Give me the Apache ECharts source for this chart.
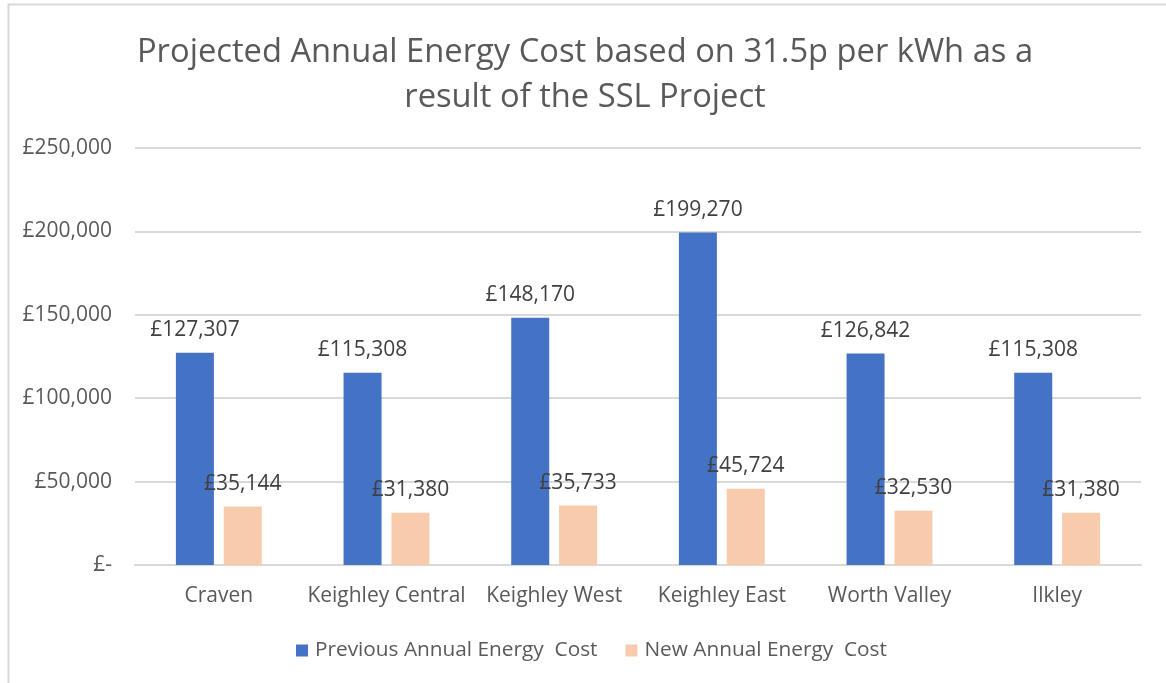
<!DOCTYPE html>
<html>
<head>
<meta charset="utf-8">
<script src="https://cdn.jsdelivr.net/npm/echarts@6/dist/echarts.min.js"></script>
<style>
  html, body { margin: 0; padding: 0; background: #fff; }
  #main { width: 1166px; height: 683px; }
</style>
</head>
<body>
<div id="main"></div>
<script>
var categories = ['Craven', 'Keighley Central', 'Keighley West', 'Keighley East', 'Worth Valley', 'Ilkley'];
var previousCost = [127307, 115308, 148170, 199270, 126842, 115308];
var newCost = [35144, 31380, 35733, 45724, 32530, 31380];
var seriesNames = ['Previous Annual Energy  Cost', 'New Annual Energy  Cost'];
var yTicks = { min: 0, max: 250000, interval: 50000 };

var font = '"Open Sans", "Liberation Sans", sans-serif';
var txt = '#595959';

function money(v) {
  if (v === 0) return '£-';
  return '£' + v.toLocaleString('en-GB');
}

var myChart = echarts.init(document.getElementById('main'));

var labelStyle = {
  show: true,
  position: 'top',
  distance: 12,
  color: '#404040',
  fontFamily: font,
  fontSize: 21,
  formatter: function (p) { return money(p.value); }
};

var option = {
  backgroundColor: '#fff',
  animation: false,
  textStyle: { fontFamily: font },
  title: {
    text: 'Projected Annual Energy Cost based on 31.5p per kWh as a\nresult of the SSL Project',
    left: 580,
    textAlign: 'center',
    top: 25,
    textStyle: { color: txt, fontSize: 32.7, fontWeight: 'normal', lineHeight: 45, fontFamily: font }
  },
  legend: {
    data: seriesNames,
    bottom: 17,
    left: 291,
    icon: 'rect',
    itemWidth: 12,
    itemHeight: 12,
    itemGap: 28,
    textStyle: { color: txt, fontSize: 20.8, fontFamily: font, padding: [0, 0, 0, 2] }
  },
  grid: { left: 135, right: 25, top: 148, bottom: 118 },
  xAxis: {
    type: 'category',
    data: categories,
    axisLine: { lineStyle: { color: '#d9d9d9', width: 2 } },
    axisTick: { show: false },
    axisLabel: { color: txt, fontSize: 21, margin: 21, interval: 0, fontFamily: font }
  },
  yAxis: {
    type: 'value',
    min: yTicks.min,
    max: yTicks.max,
    interval: yTicks.interval,
    axisLine: { show: false },
    axisTick: { show: false },
    splitLine: { lineStyle: { color: '#d9d9d9', width: 2 } },
    axisLabel: { color: txt, fontSize: 21, margin: 23, fontFamily: font, formatter: money }
  },
  series: [
    {
      name: seriesNames[0],
      type: 'bar',
      data: previousCost,
      barWidth: 38,
      barGap: '26%',
      itemStyle: { color: '#4472C4' },
      label: labelStyle
    },
    {
      name: seriesNames[1],
      type: 'bar',
      data: newCost,
      barWidth: 38,
      itemStyle: { color: '#F8CBAD' },
      label: labelStyle
    }
  ],
  graphic: [
    {
      type: 'rect',
      shape: { x: 8.5, y: 4.5, width: 1300, height: 800 },
      style: { fill: null, stroke: '#d9d9d9', lineWidth: 2 },
      silent: true
    }
  ]
};

myChart.setOption(option);
</script>
</body>
</html>
